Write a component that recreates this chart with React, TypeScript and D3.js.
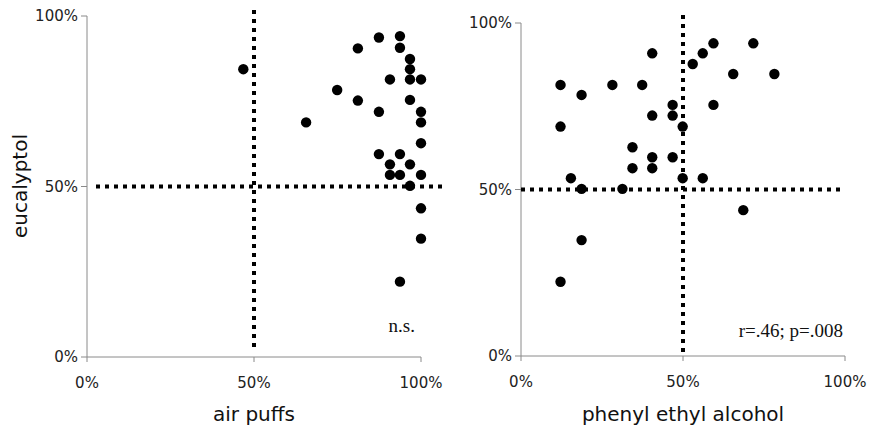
import React from "react";
import * as d3 from "d3";

// air puffs vs eucalyptol (fractions)
const airX = [0.468, 0.656, 0.749, 0.811, 0.811, 0.874, 0.874, 0.874, 0.907, 0.907, 0.907, 0.937, 0.937, 0.937, 0.937, 0.937, 0.967, 0.967, 0.967, 0.967, 0.967, 0.967, 1.0, 1.0, 1.0, 1.0, 1.0, 1.0, 1.0];
const airY = [0.844, 0.688, 0.783, 0.905, 0.752, 0.937, 0.719, 0.595, 0.814, 0.565, 0.534, 0.941, 0.907, 0.595, 0.534, 0.221, 0.874, 0.844, 0.814, 0.754, 0.565, 0.502, 0.814, 0.719, 0.688, 0.627, 0.534, 0.436, 0.347];

// phenyl ethyl alcohol vs eucalyptol
const peaX = [0.122, 0.122, 0.122, 0.154, 0.187, 0.187, 0.187, 0.282, 0.313, 0.344, 0.344, 0.374, 0.405, 0.405, 0.405, 0.405, 0.468, 0.468, 0.468, 0.499, 0.499, 0.53, 0.561, 0.561, 0.594, 0.594, 0.655, 0.686, 0.717, 0.782];
const peaY = [0.814, 0.689, 0.223, 0.534, 0.784, 0.502, 0.348, 0.814, 0.502, 0.627, 0.564, 0.814, 0.909, 0.722, 0.597, 0.564, 0.754, 0.722, 0.597, 0.689, 0.534, 0.877, 0.909, 0.534, 0.939, 0.754, 0.847, 0.438, 0.939, 0.847];

const tickVals = [0, 0.5, 1];
const tickLabels = ["0%", "50%", "100%"];

type Panel = {
  xs: number[];
  ys: number[];
  xLabel: string;
  note: string;
  xr: [number, number];
  yr: [number, number];
  vLine: [number, number]; // offsets from top/bottom of y range
  hLine: [number, number]; // offsets from left/right of x range
  noteX: number;
  noteY: number;
};

const panels: Panel[] = [
  {
    xs: airX, ys: airY, xLabel: "air puffs", note: "n.s.",
    xr: [87, 421], yr: [357, 16],
    vLine: [-6, -9], hLine: [9, 21],
    noteX: 415, noteY: 332,
  },
  {
    xs: peaX, ys: peaY, xLabel: "phenyl ethyl alcohol", note: "r=.46; p=.008",
    xr: [521, 845], yr: [356, 23],
    vLine: [-8, -4], hLine: [0, -5],
    noteX: 843, noteY: 337,
  },
];

const sans = "'DejaVu Sans', sans-serif";
const serif = "'Liberation Serif', 'Times New Roman', serif";
const axisColor = "#8a8a8a";

function ScatterPanel({ p }: { p: Panel }) {
  const x = d3.scaleLinear().domain([0, 1]).range(p.xr);
  const y = d3.scaleLinear().domain([0, 1]).range(p.yr);
  const pts = p.xs.map((v, i) => ({ x: v, y: p.ys[i] }));
  const dash = "4 5";
  return (
    <g>
      {/* axes */}
      <line x1={x(0)} x2={x(1)} y1={y(0)} y2={y(0)} stroke={axisColor} strokeWidth={1} />
      <line x1={x(0)} x2={x(0)} y1={y(0)} y2={y(1)} stroke={axisColor} strokeWidth={1} />
      {tickVals.map((t, i) => (
        <g key={"xt" + i}>
          <line x1={x(t)} x2={x(t)} y1={y(0)} y2={y(0) + 5} stroke={axisColor} />
          <text x={x(t)} y={y(0) + 31} textAnchor="middle" fontFamily={sans} fontSize={15} fill="#222">
            {tickLabels[i]}
          </text>
        </g>
      ))}
      {tickVals.map((t, i) => (
        <g key={"yt" + i}>
          <line x1={x(0) - 6} x2={x(0)} y1={y(t)} y2={y(t)} stroke={axisColor} />
          <text x={x(0) - 9} y={y(t)} dy="0.35em" textAnchor="end" fontFamily={sans} fontSize={15} fill="#222">
            {tickLabels[i]}
          </text>
        </g>
      ))}
      {/* 50% reference lines */}
      <line x1={x(0.5)} x2={x(0.5)} y1={y(1) + p.vLine[0]} y2={y(0) + p.vLine[1]}
        stroke="#000" strokeWidth={4} strokeDasharray={dash} />
      <line x1={x(0) + p.hLine[0]} x2={x(1) + p.hLine[1]} y1={y(0.5)} y2={y(0.5)}
        stroke="#000" strokeWidth={4} strokeDasharray={dash} />
      {pts.map((d, i) => (
        <circle key={i} cx={x(d.x)} cy={y(d.y)} r={5.2} fill="#000" />
      ))}
      <text x={p.noteX} y={p.noteY} textAnchor="end" fontFamily={serif} fontSize={19} fill="#111">
        {p.note}
      </text>
      <text x={(x(0) + x(1)) / 2} y={421} textAnchor="middle" fontFamily={sans} fontSize={20} fill="#111">
        {p.xLabel}
      </text>
    </g>
  );
}

export default function App() {
  return (
    <svg width={869} height={431} style={{ position: "absolute", left: 0, top: 0, background: "#fff" }}>
      <rect width={869} height={431} fill="#fff" />
      {panels.map((p, i) => (
        <ScatterPanel key={i} p={p} />
      ))}
      <text transform="translate(27,186) rotate(-90)" textAnchor="middle" fontFamily={sans} fontSize={20} fill="#111">
        eucalyptol
      </text>
    </svg>
  );
}
